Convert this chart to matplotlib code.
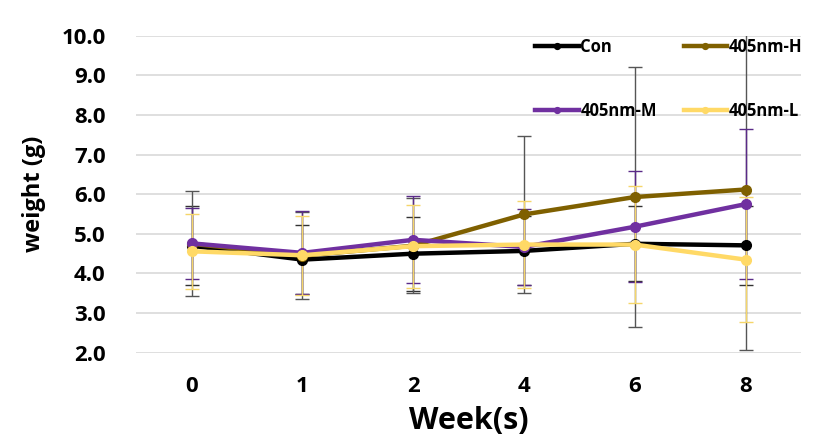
import numpy as np
import matplotlib.pyplot as plt

plt.rcParams['font.family'] = ['Open Sans', 'DejaVu Sans']

weeks = ['0', '1', '2', '4', '6', '8']

con = [4.70, 4.35, 4.50, 4.57, 4.75, 4.71]
con_sd = [1.00, 0.88, 0.93, 0.87, 0.95, 1.00]

h = [4.75, 4.45, 4.70, 5.49, 5.93, 6.12]
h_sd = [1.33, 1.10, 1.20, 1.98, 3.28, 4.05]

m = [4.76, 4.52, 4.85, 4.67, 5.18, 5.75]
m_sd = [0.90, 1.05, 1.10, 0.95, 1.40, 1.90]

low = [4.56, 4.46, 4.69, 4.73, 4.73, 4.35]
low_sd = [0.95, 1.00, 1.05, 1.10, 1.47, 1.57]

series = [
    ('Con', con, con_sd, '#000000', '#333333'),
    ('405nm-H', h, h_sd, '#7F6000', '#555555'),
    ('405nm-M', m, m_sd, '#7030A0', '#5A2A88'),
    ('405nm-L', low, low_sd, '#FFD966', '#F5D66A'),
]

fig = plt.figure(figsize=(8.36, 4.42), dpi=100)
ax = fig.add_axes([0.163, 0.202, 0.795, 0.717])

x = np.arange(len(weeks))
for name, vals, sd, col, ecol in series:
    ax.errorbar(x, vals, yerr=sd, fmt='none', ecolor=ecol, elinewidth=1.0,
                capsize=5, capthick=1.0, zorder=2)
lines = {}
for name, vals, sd, col, ecol in series:
    lines[name], = ax.plot(x, vals, color=col, linewidth=3.2, marker='o',
                           markersize=7, label=name, zorder=3)

ax.set_xlim(-0.5, 5.5)
ax.set_ylim(2, 10)
ax.set_yticks(np.arange(2, 10.1, 1))
ax.set_yticklabels([f'{v:.1f}' for v in np.arange(2, 10.1, 1)])
ax.set_xticks(x)
ax.set_xticklabels(weeks)
ax.grid(axis='y', color='#D9D9D9', linewidth=1.2)
ax.set_axisbelow(True)
for s in ax.spines.values():
    s.set_visible(False)
ax.tick_params(length=0, labelsize=16)
ax.tick_params(axis='y', pad=22)
ax.tick_params(axis='x', pad=17)
for lab in ax.get_xticklabels() + ax.get_yticklabels():
    lab.set_fontweight('bold')

ax.set_xlabel('Week(s)', fontsize=22, fontweight='bold', labelpad=6)
ax.set_ylabel('weight (g)', fontsize=17, fontweight='bold', labelpad=11)

# row-wise legend order: Con, 405nm-H / 405nm-M, 405nm-L
order = ['Con', '405nm-M', '405nm-H', '405nm-L']
ax.legend([lines[k] for k in order], order, ncol=2, loc='upper left',
          bbox_to_anchor=(0.578, 1.04), frameon=False,
          prop={'weight': 'bold', 'size': 12}, labelspacing=2.75,
          handlelength=2.6, handletextpad=0.1, columnspacing=1.6, markerscale=0.6)

plt.savefig('out.png', dpi=100)
